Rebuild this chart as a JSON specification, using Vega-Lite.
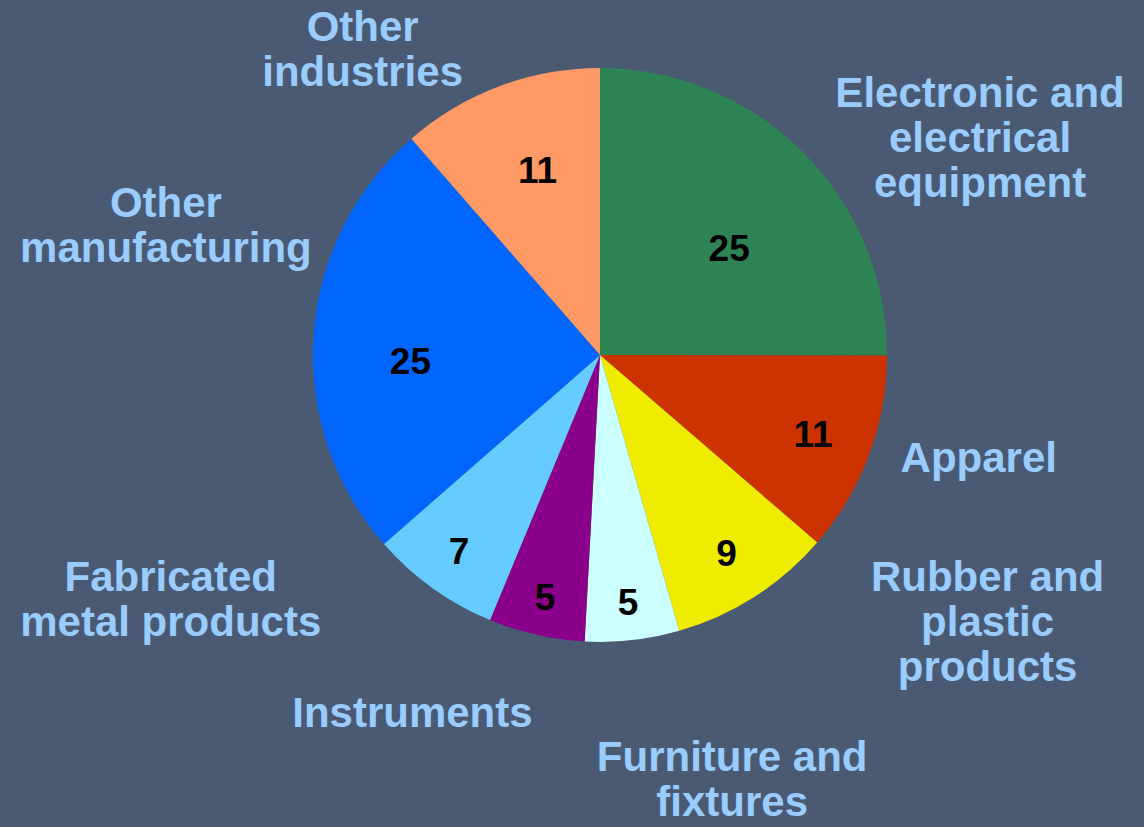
{
  "$schema": "https://vega.github.io/schema/vega-lite/v6.json",
  "width": 1088,
  "height": 710,
  "autosize": "none",
  "padding": {"left": 56, "top": 0, "right": 0, "bottom": 117},
  "background": "#4A5A73",
  "view": {"stroke": null},
  "config": {"text": {"font": "Liberation Sans", "fontWeight": "bold", "align": "center", "baseline": "middle", "lineBreak": "\n"}},
  "data": {
    "values": [
      {"order": 1, "category": "Electronic and electrical equipment", "label": "Electronic and\nelectrical\nequipment", "value": 25},
      {"order": 2, "category": "Apparel", "label": "Apparel", "value": 11.3},
      {"order": 3, "category": "Rubber and plastic products", "label": "Rubber and\nplastic\nproducts", "value": 9.2},
      {"order": 4, "category": "Furniture and fixtures", "label": "Furniture and\nfixtures", "value": 5.3},
      {"order": 5, "category": "Instruments", "label": "Instruments", "value": 5.4},
      {"order": 6, "category": "Fabricated metal products", "label": "Fabricated\nmetal products", "value": 7.3},
      {"order": 7, "category": "Other manufacturing", "label": "Other\nmanufacturing", "value": 25},
      {"order": 8, "category": "Other industries", "label": "Other\nindustries", "value": 11.4}
    ]
  },
  "encoding": {
    "theta": {"field": "value", "type": "quantitative", "stack": true},
    "order": {"field": "order", "type": "quantitative"},
    "color": {
      "field": "category",
      "type": "nominal",
      "legend": null,
      "scale": {
        "domain": ["Electronic and electrical equipment", "Apparel", "Rubber and plastic products", "Furniture and fixtures", "Instruments", "Fabricated metal products", "Other manufacturing", "Other industries"],
        "range": ["#2F8456", "#CC3300", "#F0EC00", "#CCFFFF", "#8B008B", "#66CCFF", "#0066FF", "#FF9966"]
      }
    }
  },
  "layer": [
    {"mark": {"type": "arc", "outerRadius": 287}},
    {
      "mark": {"type": "text", "fontSize": 37, "dy": 2},
      "encoding": {
        "text": {"condition": {"test": "datum.order >= 2 && datum.order <= 6", "field": "value", "type": "quantitative", "format": ".0f"}, "value": ""},
        "radius": {"field": "value", "type": "quantitative", "scale": {"type": "linear", "domain": [5, 25], "range": [250, 178], "zero": false}},
        "color": {"value": "#000000"},
        "detail": {"field": "category"}
      }
    },
    {
      "mark": {"type": "text", "fontSize": 37, "radius": 167, "dx": 11, "dy": 13},
      "encoding": {
        "text": {"condition": {"test": "datum.order === 1", "field": "value", "type": "quantitative", "format": ".0f"}, "value": ""},
        "color": {"value": "#000000"},
        "detail": {"field": "category"}
      }
    },
    {
      "mark": {"type": "text", "fontSize": 37, "radius": 190, "dx": 0, "dy": 21},
      "encoding": {
        "text": {"condition": {"test": "datum.order === 7", "field": "value", "type": "quantitative", "format": ".0f"}, "value": ""},
        "color": {"value": "#000000"},
        "detail": {"field": "category"}
      }
    },
    {
      "mark": {"type": "text", "fontSize": 37, "radius": 195, "dx": 6, "dy": 0},
      "encoding": {
        "text": {"condition": {"test": "datum.order === 8", "field": "value", "type": "quantitative", "format": ".0f"}, "value": ""},
        "color": {"value": "#000000"},
        "detail": {"field": "category"}
      }
    },
    {
      "mark": {"type": "text", "radius": 400, "dx": 97, "dy": 22, "fontSize": 42, "lineHeight": 45},
      "encoding": {"text": {"condition": {"test": "datum.order === 1", "field": "label"}, "value": ""}, "color": {"value": "#99CCFF"}, "detail": {"field": "category"}}
    },
    {
      "mark": {"type": "text", "radius": 400, "dx": 4, "dy": -36, "fontSize": 42, "lineHeight": 45},
      "encoding": {"text": {"condition": {"test": "datum.order === 2", "field": "label"}, "value": ""}, "color": {"value": "#99CCFF"}, "detail": {"field": "category"}}
    },
    {
      "mark": {"type": "text", "radius": 400, "dx": 172, "dy": -114, "fontSize": 42, "lineHeight": 45},
      "encoding": {"text": {"condition": {"test": "datum.order === 3", "field": "label"}, "value": ""}, "color": {"value": "#99CCFF"}, "detail": {"field": "category"}}
    },
    {
      "mark": {"type": "text", "radius": 400, "dx": 87, "dy": 6, "fontSize": 42, "lineHeight": 45},
      "encoding": {"text": {"condition": {"test": "datum.order === 4", "field": "label"}, "value": ""}, "color": {"value": "#99CCFF"}, "detail": {"field": "category"}}
    },
    {
      "mark": {"type": "text", "radius": 400, "dx": -99, "dy": -31, "fontSize": 42, "lineHeight": 45},
      "encoding": {"text": {"condition": {"test": "datum.order === 5", "field": "label"}, "value": ""}, "color": {"value": "#99CCFF"}, "detail": {"field": "category"}}
    },
    {
      "mark": {"type": "text", "radius": 400, "dx": -196, "dy": -102, "fontSize": 42, "lineHeight": 45},
      "encoding": {"text": {"condition": {"test": "datum.order === 6", "field": "label"}, "value": ""}, "color": {"value": "#99CCFF"}, "detail": {"field": "category"}}
    },
    {
      "mark": {"type": "text", "radius": 400, "dx": -35, "dy": -124, "fontSize": 42, "lineHeight": 45},
      "encoding": {"text": {"condition": {"test": "datum.order === 7", "field": "label"}, "value": ""}, "color": {"value": "#99CCFF"}, "detail": {"field": "category"}}
    },
    {
      "mark": {"type": "text", "radius": 400, "dx": -97, "dy": 48, "fontSize": 42, "lineHeight": 45},
      "encoding": {"text": {"condition": {"test": "datum.order === 8", "field": "label"}, "value": ""}, "color": {"value": "#99CCFF"}, "detail": {"field": "category"}}
    }
  ]
}
